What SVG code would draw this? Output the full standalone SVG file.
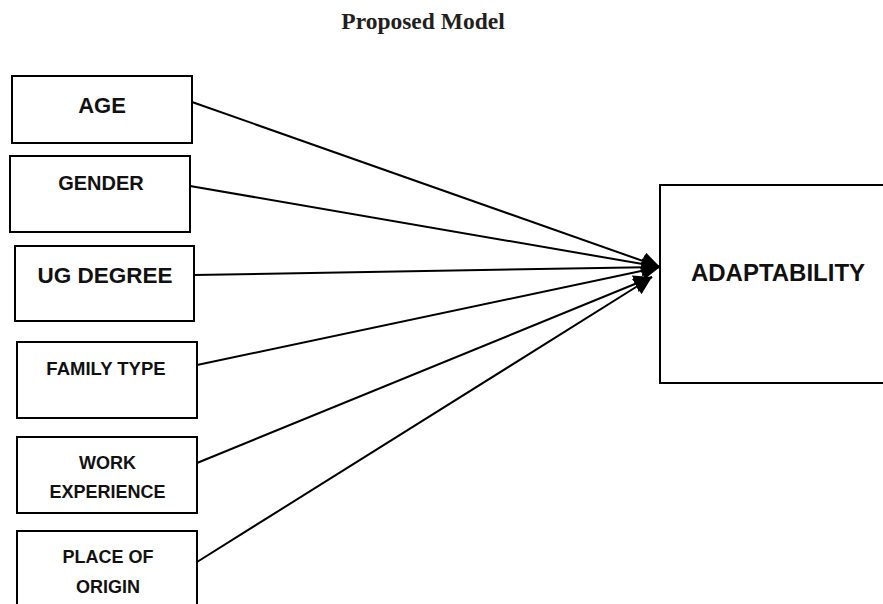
<svg xmlns="http://www.w3.org/2000/svg" width="883" height="604" viewBox="0 0 883 604">
<style>
.box{fill:#fff;stroke:#000;stroke-width:2}
.lbl{font-family:"Liberation Sans",Arial,sans-serif;font-weight:bold;fill:#111;text-anchor:middle}
.title{font-family:"Liberation Serif","Times New Roman",serif;font-weight:bold;font-size:23.5px;fill:#231f20;text-anchor:middle}
.conn{stroke:#000;stroke-width:2;fill:none;marker-end:url(#arr)}
</style>
<defs>
<marker id="arr" markerUnits="userSpaceOnUse" markerWidth="20" markerHeight="18" refX="18" refY="9" orient="auto">
<path d="M0,0 L18,9 L0,18 Z" fill="#000"/>
</marker>
</defs>
<text class="title" x="423" y="29">Proposed Model</text>
<g id="connectors">
<line class="conn" x1="192" y1="102" x2="660" y2="267"/>
<line class="conn" x1="190" y1="186" x2="660" y2="267"/>
<line class="conn" x1="194" y1="275" x2="660" y2="267"/>
<line class="conn" x1="197" y1="365" x2="660" y2="267"/>
<line class="conn" x1="197" y1="463" x2="652" y2="277"/>
<line class="conn" x1="197" y1="562" x2="652" y2="277"/>
</g>
<g id="age"><rect class="box" x="12" y="76" width="180" height="67"/><text class="lbl" x="102" y="113" font-size="22">AGE</text></g>
<g id="gender"><rect class="box" x="10" y="156" width="180" height="76"/><text class="lbl" x="101" y="190" font-size="20">GENDER</text></g>
<g id="ug-degree"><rect class="box" x="15" y="246" width="179" height="75"/><text class="lbl" x="105" y="283" font-size="22.5">UG DEGREE</text></g>
<g id="family-type"><rect class="box" x="17" y="342" width="180" height="76"/><text class="lbl" x="106" y="375" font-size="18.5">FAMILY TYPE</text></g>
<g id="work-experience"><rect class="box" x="17" y="437" width="180" height="76"/><text class="lbl" x="107.5" y="469" font-size="18">WORK</text><text class="lbl" x="107.5" y="498" font-size="18">EXPERIENCE</text></g>
<g id="place-of-origin"><rect class="box" x="17" y="531" width="180" height="80"/><text class="lbl" x="108" y="563" font-size="18">PLACE OF</text><text class="lbl" x="108" y="593" font-size="18">ORIGIN</text></g>
<g id="adaptability"><rect class="box" x="660" y="185" width="240" height="198"/><text class="lbl" x="778" y="281" font-size="24">ADAPTABILITY</text></g>
</svg>
